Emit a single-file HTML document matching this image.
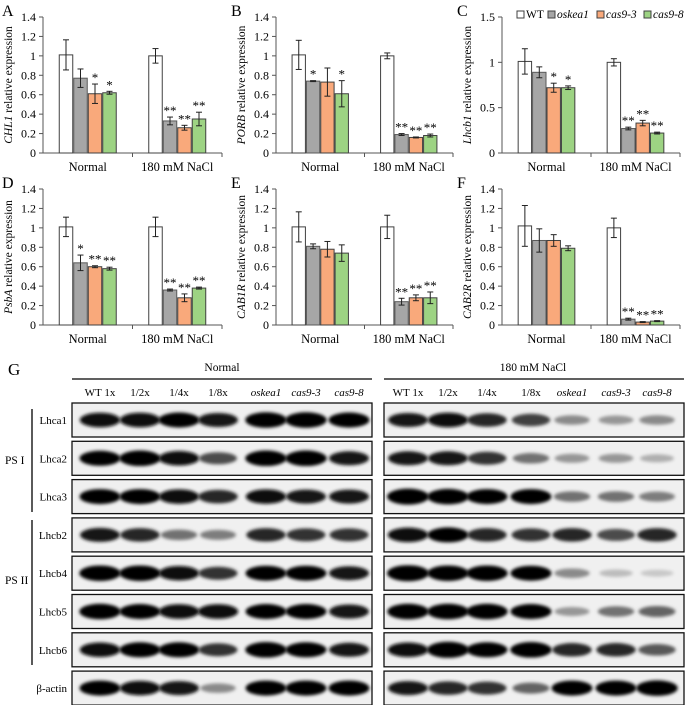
<!DOCTYPE html>
<html><head><meta charset="utf-8">
<style>
html,body{margin:0;padding:0;background:#fff;}
svg, svg text{font-family:"Liberation Serif","Times New Roman",serif;}
</style></head>
<body>
<svg id="fig" width="685" height="705" viewBox="0 0 685 705" xmlns="http://www.w3.org/2000/svg" font-family="Liberation Serif, serif">
<defs>
<filter id="blur" x="-30%" y="-80%" width="160%" height="260%"><feGaussianBlur stdDeviation="1.6"/></filter>
</defs>
</svg>
<script>
const NS="http://www.w3.org/2000/svg";
const svg=document.getElementById('fig');
function mk(tag,attrs,parent){const e=document.createElementNS(NS,tag);for(const k in attrs)e.setAttribute(k,attrs[k]);(parent||svg).appendChild(e);return e;}

// ---- chart data ----
const categories=["Normal","180 mM NaCl"];
const seriesNames=["WT","oskea1","cas9-3","cas9-8"];
const seriesColors=["#ffffff","#a6a6a6","#f9a97b","#9dd383"];
const seriesStroke=["#404040","#595959","#404040","#404040"];
const genes=["CHL1","PORB","Lhcb1","PsbA","CAB1R","CAB2R"];
const panelLetters=["A","B","C","D","E","F"];
const yMaxes=[1.4,1.4,1.5,1.4,1.4,1.4];
const yStepsArr=[0.2,0.2,0.5,0.2,0.2,0.2];
const tickLabels1=["0","0.2","0.4","0.6","0.8","1","1.2","1.4"];
const tickLabels2=["0","0.5","1","1.5"];
const normalVals=[[1.01,0.77,0.61,0.62],[1.01,0.74,0.73,0.61],[1.01,0.89,0.72,0.72],[1.01,0.64,0.60,0.58],[1.01,0.81,0.78,0.74],[1.02,0.87,0.87,0.79]];
const normalErr=[[0.155,0.095,0.10,0.015],[0.15,0.005,0.145,0.135],[0.14,0.06,0.05,0.02],[0.10,0.08,0.01,0.015],[0.155,0.025,0.08,0.085],[0.21,0.12,0.06,0.025]];
const saltVals=[[1.0,0.33,0.26,0.35],[1.0,0.19,0.16,0.18],[1.0,0.27,0.33,0.22],[1.01,0.36,0.28,0.38],[1.01,0.24,0.28,0.28],[1.0,0.06,0.03,0.04]];
const saltErr=[[0.075,0.04,0.025,0.07],[0.03,0.01,0.005,0.015],[0.04,0.015,0.03,0.01],[0.10,0.01,0.04,0.01],[0.12,0.035,0.03,0.06],[0.10,0.01,0.005,0.005]];
const normalStars=[["","","*","*"],["","*","","*"],["","","*","*"],["","*","**","**"],["","","",""],["","","",""]];
const saltStars=[["","**","**","**"],["","**","**","**"],["","**","**","**"],["","**","**","**"],["","**","**","**"],["","**","**","**"]];

// layout (not data)
const axisX=[43,276,502], axisEnd=[222,453,680];
const rowY0=[153,325], rowTop=[17,189];

function drawChart(p){
  const col=p%3,row=Math.floor(p/3);
  const x0=axisX[col],x1=axisEnd[col],y0=rowY0[row],yT=rowTop[row];
  const ymax=yMaxes[p],step=yStepsArr[p];
  const ys=v=>y0-(v/ymax)*(y0-yT);
  const g=mk('g',{});
  
  
  const L=mk('text',{x:col===0?2:x0-45,y:row===0?16:188,'font-size':16},g);L.textContent=panelLetters[p];
  
  
  const labels=step===0.5?tickLabels2:tickLabels1;
  labels.forEach((lab,i)=>{
    const v=i*step,y=ys(v);
    mk('line',{x1:x0-4,x2:x0,y1:y,y2:y,stroke:'#555','stroke-width':1},g);
    const t=mk('text',{x:x0-7,y:y+4,'font-size':12,'text-anchor':'end'},g);t.textContent=lab;
    
    
  });
  mk('line',{x1:x0,x2:x0,y1:yT,y2:y0,stroke:'#555','stroke-width':1},g);
  mk('line',{x1:x0,x2:x1,y1:y0,y2:y0,stroke:'#555','stroke-width':1},g);
  const xm=(x0+x1)/2;
  mk('line',{x1:xm,x2:xm,y1:y0,y2:y0+4,stroke:'#555'},g);
  mk('line',{x1:x1,x2:x1,y1:y0,y2:y0+4,stroke:'#555'},g);
  const yl=mk('text',{transform:`translate(${x0-31},${(y0+yT)/2}) rotate(-90)`,'font-size':11.5,'text-anchor':'middle'},g);
  yl.innerHTML=`<tspan font-style="italic">${genes[p]}</tspan> relative expression`;
  
  
  const cw=(x1-x0)/2, bw=cw*0.162;
  [normalVals[p],saltVals[p]].forEach((vals,ci)=>{
    const errs=ci===0?normalErr[p]:saltErr[p], stars=ci===0?normalStars[p]:saltStars[p];
    const cc=x0+cw*(ci+0.5);
    const ct=mk('text',{x:cc,y:y0+18,'font-size':12.5,'text-anchor':'middle'},g);ct.textContent=categories[ci];
    
    
    vals.forEach((v,si)=>{
      const bx=cc-2*bw+si*bw;
      const r=mk('rect',{x:bx+0.5,y:ys(v),width:bw-1,height:y0-ys(v),fill:seriesColors[si],stroke:seriesStroke[si],'stroke-width':1},g);
      
      
      const mx=bx+bw/2,e=errs[si],yh=ys(v+e),yl2=ys(v-e);
      mk('line',{x1:mx,x2:mx,y1:yh,y2:yl2,stroke:'#222'},g);
      mk('line',{x1:mx-3,x2:mx+3,y1:yh,y2:yh,stroke:'#222'},g);
      mk('line',{x1:mx-3,x2:mx+3,y1:yl2,y2:yl2,stroke:'#222'},g);
      if(stars[si]){const s=mk('text',{x:mx,y:yh-2,'font-size':13,'text-anchor':'middle'},g);s.textContent=stars[si];
        
        }
    });
  });
}
for(let p=0;p<6;p++)drawChart(p);

// legend
const lg=mk('g',{});


let lx=517;
const legendWidths=[22,40,38,36];
seriesNames.forEach((n,i)=>{
  mk('rect',{x:lx,y:11,width:7,height:7,fill:seriesColors[i],stroke:'#404040'},lg);
  const t=mk('text',{x:lx+9,y:18,'font-size':11.5,'font-style':i?'italic':'normal'},lg);t.textContent=n;
  
  
  lx+=legendWidths[i]+9;
});

// ---- western blot ----
const laneLabels=["WT 1x","1/2x","1/4x","1/8x","oskea1","cas9-3","cas9-8"];
const proteins=["Lhca1","Lhca2","Lhca3","Lhcb2","Lhcb4","Lhcb5","Lhcb6","β-actin"];
const normalBands=[[0.85,0.85,0.9,0.8,0.95,0.95,0.9],[0.9,0.95,0.85,0.6,0.95,0.95,0.8],[0.9,0.9,0.85,0.75,0.85,0.8,0.8],[0.8,0.75,0.45,0.4,0.75,0.7,0.7],[0.95,0.95,0.85,0.7,0.9,0.9,0.8],[0.95,0.9,0.85,0.85,0.9,0.9,0.8],[0.85,0.9,0.9,0.7,0.95,0.9,0.8],[0.9,0.85,0.8,0.35,0.9,0.9,0.9]];
const saltBands=[[0.8,0.85,0.75,0.65,0.35,0.3,0.35],[0.8,0.8,0.7,0.45,0.3,0.3,0.2],[1,0.95,0.9,0.9,0.45,0.45,0.4],[0.85,0.9,0.75,0.7,0.75,0.6,0.75],[1,0.95,0.95,0.9,0.35,0.15,0.1],[0.95,0.95,0.95,0.9,0.3,0.45,0.5],[0.85,1,0.9,0.95,0.75,0.75,0.55],[0.8,0.75,0.7,0.5,0.9,0.9,0.95]];
const leftLanes=[100,140,179,218,266,306,349], rightLanes=[408,448,487,531,572,616,657];
const boxL=[72,384], boxW=300;

const G=mk('text',{x:8,y:375,'font-size':17});G.textContent='G';

[["Normal",222],["180 mM NaCl",533]].forEach(([t,cx],i)=>{
  const e=mk('text',{x:cx,y:371,'font-size':11.5,'text-anchor':'middle'});e.textContent=t;
  
  mk('line',{x1:boxL[i],x2:boxL[i]+boxW,y1:379,y2:379,stroke:'#000','stroke-width':1.2});
});
[leftLanes,rightLanes].forEach(lanes=>lanes.forEach((lx2,i)=>{
  const t=mk('text',{x:lx2,y:396,'font-size':11,'text-anchor':'middle','font-style':i>=4?'italic':'normal'});t.textContent=laneLabels[i];
  
}));
proteins.forEach((pn,r)=>{
  const top=403+r*38.3,h=34;
  const t=mk('text',{x:67,y:top+h/2+4,'font-size':11,'text-anchor':'end'});t.textContent=pn;
  
  [0,1].forEach(side=>{
    const g=mk('g',{});
    
    
    mk('rect',{x:boxL[side],y:top,width:boxW,height:h,fill:'#f0f0f0'},g);
    const bands=side?saltBands[r]:normalBands[r], lanes=side?rightLanes:leftLanes;
    bands.forEach((b,i)=>{
      const gray=Math.max(0,Math.round(225-250*b));
      mk('ellipse',{cx:lanes[i],cy:top+h/2,rx:16+5*b,ry:3+5*b,fill:`rgb(${gray},${gray},${gray})`,filter:'url(#blur)'},g);
    });
    mk('rect',{x:boxL[side],y:top,width:boxW,height:h,fill:'none',stroke:'#111','stroke-width':1.3},g);
  });
});
mk('line',{x1:32,x2:32,y1:409,y2:512,stroke:'#000','stroke-width':1.3});
mk('line',{x1:32,x2:32,y1:520,y2:665,stroke:'#000','stroke-width':1.3});
[["PS I",464],["PS II",584]].forEach(([t,y])=>{
  const e=mk('text',{x:5,y:y,'font-size':11.5});e.textContent=t;
  
});
</script>
</body></html>
